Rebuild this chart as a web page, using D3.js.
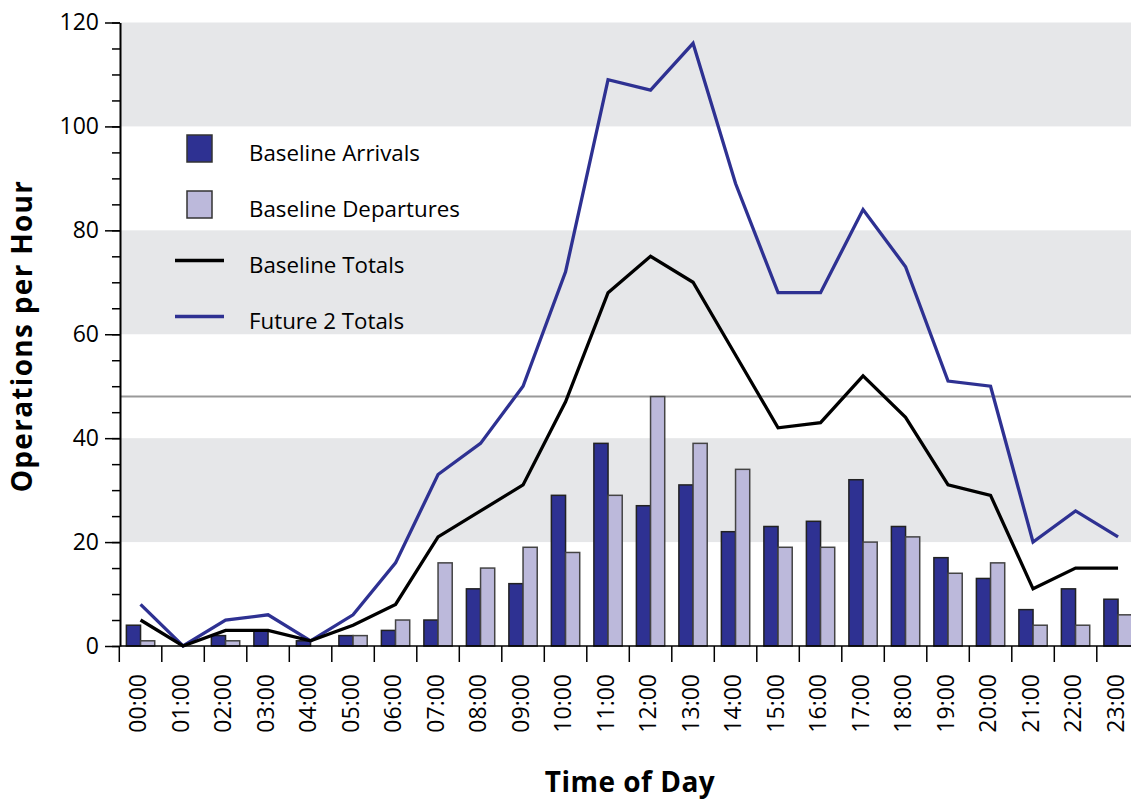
<!DOCTYPE html>
<html><head><meta charset="utf-8">
<script src="https://cdn.jsdelivr.net/npm/d3@7"></script>
<style>body{margin:0;background:#fff}svg{display:block}text{font-family:"Open Sans",sans-serif}</style>
</head><body><svg id="c" width="1131" height="800"></svg>
<script>
const hours = ["00:00","01:00","02:00","03:00","04:00","05:00","06:00","07:00","08:00","09:00","10:00","11:00","12:00","13:00","14:00","15:00","16:00","17:00","18:00","19:00","20:00","21:00","22:00","23:00"];
const arrivals =   [4,0,2,3,1,2,3,5,11,12,29,39,27,31,22,23,24,32,23,17,13,7,11,9];
const departures = [1,0,1,0,0,2,5,16,15,19,18,29,48,39,34,19,19,20,21,14,16,4,4,6];
const baselineTotals = [5,0,3,3,1,4,8,21,26,31,47,68,75,70,56,42,43,52,44,31,29,11,15,15];
const future2Totals = [8,0,5,6,1,6,16,33,39,50,72,109,107,116,89,68,68,84,73,51,50,20,26,21];
const yTicks = [0,20,40,60,80,100,120];
const yMinorTicks = d3.range(0,121,5);
const shadedBands = [[20,40],[60,80],[100,120]];
const referenceLevel = 48;
const legendItems = [
  {label:"Baseline Arrivals", type:"rect", color:"#2e3192"},
  {label:"Baseline Departures", type:"rect", color:"#bcb9db"},
  {label:"Baseline Totals", type:"line", color:"#000000"},
  {label:"Future 2 Totals", type:"line", color:"#2e3192"}
];

const svg = d3.select("#c");
const mLeft = 120, mRight = 1131, mTop = 22.5, mBottom = 646;
const x = d3.scaleBand().domain(hours).range([119.3, 1139.3]).padding(0);
const xs = d3.scaleBand().domain(["a","d"]).range([0, x.bandwidth()]).paddingInner(0).paddingOuter(0.5);
const y = d3.scaleLinear().domain([0,120]).range([mBottom, mTop]);

// shaded bands
svg.append("g").selectAll("rect").data(shadedBands).join("rect")
  .attr("x", mLeft).attr("width", mRight-mLeft)
  .attr("y", d=>y(d[1])).attr("height", d=>y(d[0])-y(d[1]))
  .attr("fill","#e6e7e9");

// reference line
svg.append("line").attr("x1",mLeft).attr("x2",mRight)
  .attr("y1",y(referenceLevel)).attr("y2",y(referenceLevel))
  .attr("stroke","#999").attr("stroke-width",2);

// bars
const bars = svg.append("g");
bars.selectAll(".arr").data(hours).join("rect").attr("class","arr")
  .attr("x",(d)=>x(d)+xs("a")).attr("width",xs.bandwidth())
  .attr("y",(d,i)=>y(arrivals[i])).attr("height",(d,i)=>y(0)-y(arrivals[i]))
  .attr("fill","#2e3192").attr("stroke",(d,i)=>arrivals[i]>0?"#222":"none").attr("stroke-width",1.5);
bars.selectAll(".dep").data(hours).join("rect").attr("class","dep")
  .attr("x",(d)=>x(d)+xs("d")).attr("width",xs.bandwidth())
  .attr("y",(d,i)=>y(departures[i])).attr("height",(d,i)=>y(0)-y(departures[i]))
  .attr("fill","#bcb9db").attr("stroke",(d,i)=>departures[i]>0?"#444":"none").attr("stroke-width",1.5);

// lines
const line = d3.line().x((d,i)=>x(hours[i])+x.bandwidth()/2).y(d=>y(d));
svg.append("path").datum(future2Totals).attr("d",line).attr("fill","none")
  .attr("stroke","#2e3192").attr("stroke-width",3.3).attr("stroke-linejoin","miter");
svg.append("path").datum(baselineTotals).attr("d",line).attr("fill","none")
  .attr("stroke","#000").attr("stroke-width",3.3).attr("stroke-linejoin","miter");

// y axis
const yMinor = svg.append("g").attr("transform",`translate(${mLeft},0)`)
  .call(d3.axisLeft(y).tickValues(yMinorTicks).tickSize(8).tickFormat(""));
yMinor.select(".domain").remove();
yMinor.selectAll("line").attr("stroke","#000").attr("stroke-width",1.5);
const yAx = svg.append("g").attr("transform",`translate(${mLeft},0)`)
  .call(d3.axisLeft(y).tickValues(yTicks).tickSize(15).tickPadding(6).tickSizeOuter(0));
yAx.select(".domain").attr("stroke","#000").attr("stroke-width",2);
yAx.selectAll("line").attr("stroke","#000").attr("stroke-width",1.5);
yAx.selectAll("text").attr("font-size",23).attr("fill","#000").attr("font-family","'Open Sans',sans-serif");

// x axis
svg.append("line").attr("x1",mLeft).attr("x2",mRight).attr("y1",mBottom).attr("y2",mBottom)
  .attr("stroke","#000").attr("stroke-width",1.5);
const xTickPos = hours.map(h=>x(h));
svg.append("g").selectAll("line").data(xTickPos).join("line")
  .attr("x1",d=>d).attr("x2",d=>d).attr("y1",mBottom).attr("y2",mBottom+16)
  .attr("stroke","#000").attr("stroke-width",1.5);
svg.append("g").selectAll("text").data(hours).join("text")
  .attr("transform",d=>`translate(${x(d)+x.bandwidth()/2+5.5},${mBottom+28}) rotate(-90)`)
  .attr("text-anchor","end").attr("font-size",23).attr("fill","#000").text(d=>d);

// axis titles
svg.append("text").attr("x",630).attr("y",792).attr("text-anchor","middle")
  .attr("font-size",28).attr("font-weight","bold").attr("letter-spacing",0.5).text("Time of Day");
svg.append("text").attr("transform","translate(32,336) rotate(-90)").attr("text-anchor","middle")
  .attr("font-size",28).attr("font-weight","bold").attr("letter-spacing",1.3).text("Operations per Hour");

// legend
const lg = svg.append("g");
legendItems.forEach((it,i)=>{
  const cy = 148.5 + i*56;
  if(it.type==="rect"){
    lg.append("rect").attr("x",187).attr("y",cy-13.5).attr("width",25).attr("height",27)
      .attr("fill",it.color).attr("stroke","#333").attr("stroke-width",1.5);
  } else {
    lg.append("line").attr("x1",175).attr("x2",224).attr("y1",cy).attr("y2",cy)
      .attr("stroke",it.color).attr("stroke-width",3.3);
  }
  lg.append("text").attr("x",249).attr("y",cy+12).attr("font-size",22.3).attr("fill","#000").text(it.label);
});
</script></body></html>
